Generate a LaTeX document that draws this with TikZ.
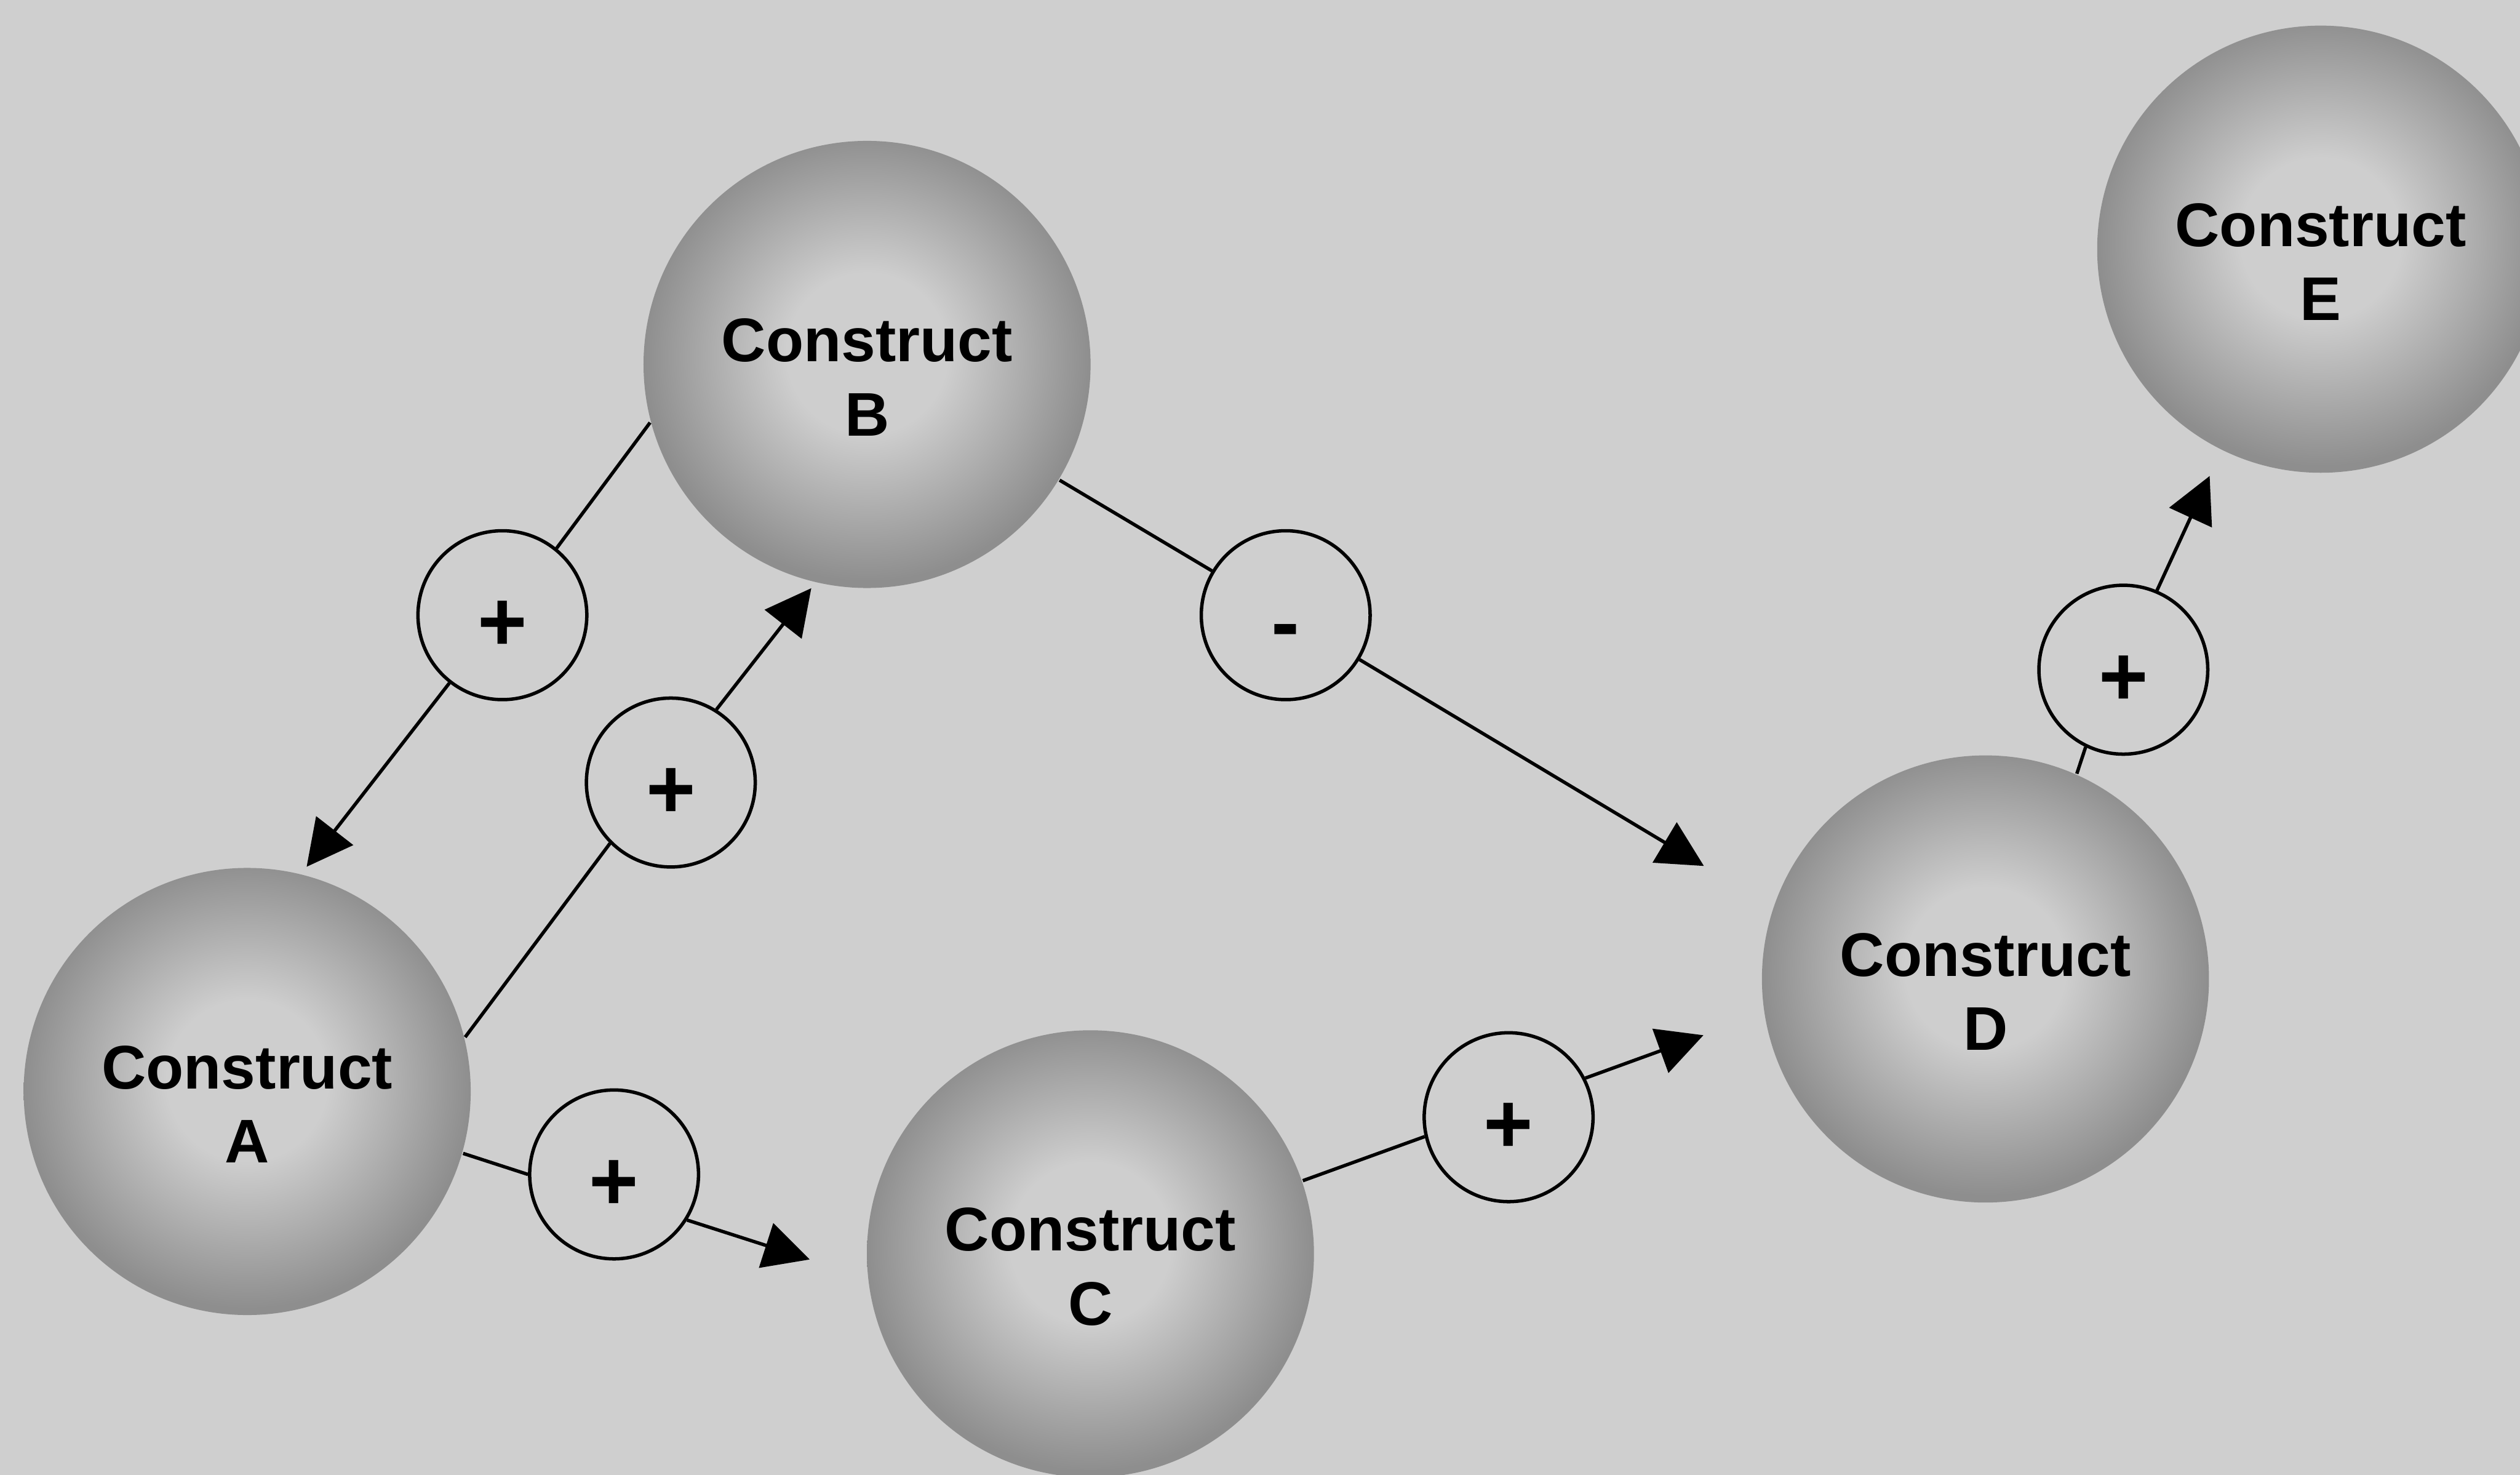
\documentclass[tikz,border=0pt]{standalone}
\usepackage{fontspec}
\setmainfont{Liberation Sans}
\usetikzlibrary{arrows.meta}

\definecolor{paper}{RGB}{207,207,207}
\definecolor{dotlight}{RGB}{206,206,206}
\definecolor{dotdark}{RGB}{142,142,142}

% screened grey disc: light core, darker rim
\pgfdeclareradialshading{halftone}{\pgfpoint{0bp}{1.5bp}}{%
  color(0bp)=(dotlight); color(9bp)=(dotlight);
  color(25bp)=(dotdark); color(50bp)=(dotdark)}

\tikzset{
  construct/.style={circle, minimum size=2.78cm, inner sep=0pt, draw=none,
    shade, shading=halftone},
  cname/.style={align=center, inner sep=0pt,
    font=\bfseries\fontsize{10.9}{13.1}\selectfont},
  sign/.style={circle, draw=black, line width=0.6pt, fill=paper,
    minimum size=1.05cm, inner sep=0pt,
    font=\bfseries\fontsize{15}{15}\selectfont},
  link/.style={draw=black, line width=0.6pt},
  arrowlink/.style={link, -{Triangle[length=8.1pt,width=8.2pt]}},
}

\begin{document}
\begin{tikzpicture}[x=0.01cm, y=-0.01cm]
  % page
  \useasboundingbox (0,0) rectangle (1568,917.42);
  \clip (0,0) rectangle (1568,917.42);
  \fill[paper] (0,0) rectangle (1568,917.42);

  % constructs
  \node[construct] (A) at (153.8,679)   {};
  \node[construct] (B) at (539.5,226.7) {};
  \node[construct] (C) at (678.5,780)   {};
  \node[construct] (D) at (1235.4,609)  {};
  \node[construct] (E) at (1444,155)    {};

  \node[cname] (Atxt) at ([yshift=-0.08cm]A.center) {Construct\\A};
  \node[cname] (Btxt) at ([yshift=-0.08cm]B.center) {Construct\\B};
  \node[cname] (Ctxt) at ([yshift=-0.08cm]C.center) {Construct\\C};
  \node[cname] (Dtxt) at ([yshift=-0.08cm]D.center) {Construct\\D};
  \node[cname] (Etxt) at ([yshift=-0.08cm]E.center) {Construct\\E};

  % relationship signs
  \node[sign] (P1) at (312.6,382.7) {\raisebox{-1.9pt}[\height][0pt]{+}};
  \node[sign] (P2) at (417.4,486.8) {\raisebox{-1.9pt}[\height][0pt]{+}};
  \node[sign] (M)  at (800,382.7)   {\raisebox{-4pt}[\height][0pt]{-}};
  \node[sign] (P3) at (382.1,730.6) {\raisebox{-1.9pt}[\height][0pt]{+}};
  \node[sign] (P4) at (938.7,695)   {\raisebox{-1.9pt}[\height][0pt]{+}};
  \node[sign] (P5) at (1321.2,416.6){\raisebox{-1.9pt}[\height][0pt]{+}};

  % arrow ends
  \coordinate (tA)  at (190.8,539.2);
  \coordinate (tB)  at (504.8,365.9);
  \coordinate (tD1) at (1060.2,538.7);
  \coordinate (tC)  at (503.8,783.5);
  \coordinate (tD2) at (1059.9,644);
  \coordinate (tE)  at (1374.9,296.1);

  % B -> A
  \draw[link] (B.195.4) -- (P1.51.6);
  \draw[arrowlink] (P1.232.6) -- (tA);
  % A -> B
  \draw[link] (A.14.6) -- (P2.225.4);
  \draw[arrowlink] (P2.58.3) -- (tB);
  % B -> D
  \draw[link] (B.-31.4) -- (M.149);
  \draw[arrowlink] (M.-31.3) -- (tD1);
  % A -> C
  \draw[link] (A.-16) -- (P3.180);
  \draw[arrowlink] (P3.-32.3) -- (tC);
  % C -> D
  \draw[link] (C.19.2) -- (P4.193);
  \draw[arrowlink] (P4.27.5) -- (tD2);
  % D -> E
  \draw[link] (D.66.6) -- (P5.244);
  \draw[arrowlink] (P5.67.8) -- (tE);
\end{tikzpicture}
\end{document}
